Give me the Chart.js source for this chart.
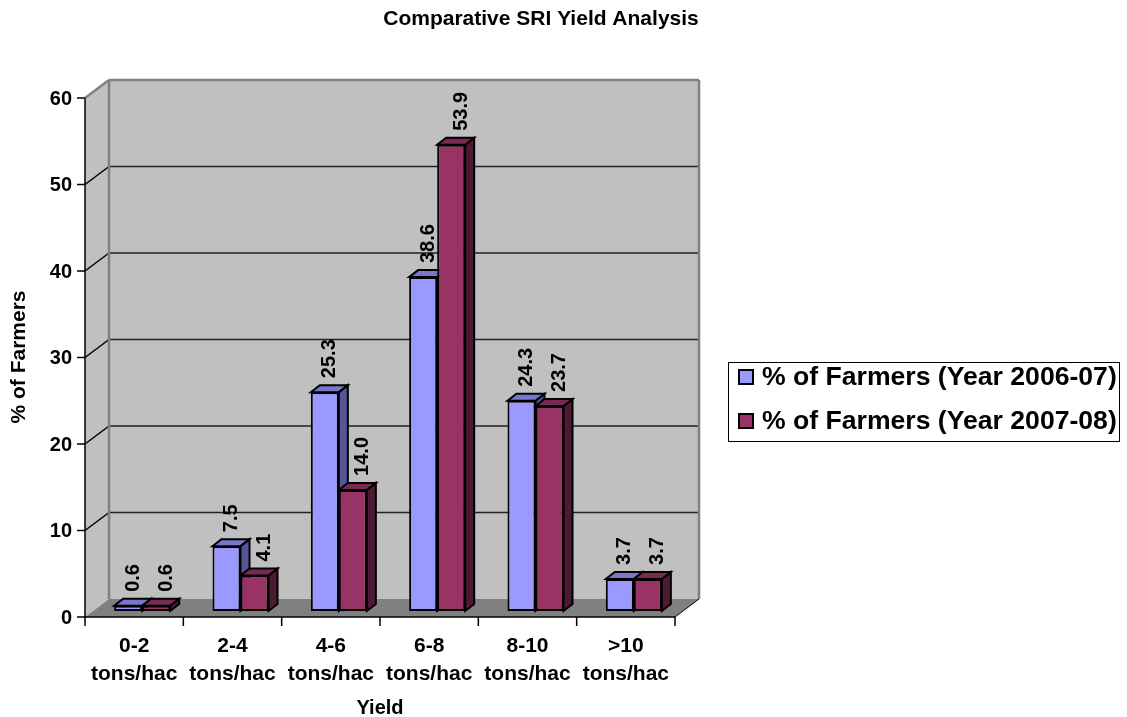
<!DOCTYPE html>
<html>
<head>
<meta charset="utf-8">
<script src="https://cdn.jsdelivr.net/npm/chart.js@4"></script>
<style>
  html, body { margin: 0; padding: 0; background: #ffffff; }
  #wrap { width: 1127px; height: 717px; }
</style>
</head>
<body>
<div id="wrap"><canvas id="chart" width="1127" height="717"></canvas></div>
<script>
// Yield bands (two-line tick labels)
const categories = [
  ['0-2', 'tons/hac'],
  ['2-4', 'tons/hac'],
  ['4-6', 'tons/hac'],
  ['6-8', 'tons/hac'],
  ['8-10', 'tons/hac'],
  ['>10', 'tons/hac']
];
const seriesNames = ['% of Farmers (Year 2006-07)', '% of Farmers (Year 2007-08)'];
const farmers2006 = [0.6, 7.5, 25.3, 38.6, 24.3, 3.7];
const farmers2007 = [0.6, 4.1, 14.0, 53.9, 23.7, 3.7];
const yTicks = [0, 10, 20, 30, 40, 50, 60];

const FONT = '"Liberation Sans", Arial, Helvetica, sans-serif';

// Colours: front, top and side faces of each series
const faceColors = [
  { front: '#9999FF', top: '#7777CC', side: '#555599' },
  { front: '#993366', top: '#7A2952', side: '#4D1A33' }
];

// Depth of the walls and of the bars
const WALL = { x: 24, y: -18 };
const BAR_SHIFT = { x: 8, y: -6 };
const BAR_DEPTH = { x: 9, y: -7 };

function poly(ctx, pts, fill, stroke, lw) {
  ctx.beginPath();
  ctx.moveTo(pts[0][0], pts[0][1]);
  for (let i = 1; i < pts.length; i++) ctx.lineTo(pts[i][0], pts[i][1]);
  ctx.closePath();
  if (fill) { ctx.fillStyle = fill; ctx.fill(); }
  if (stroke) { ctx.strokeStyle = stroke; ctx.lineWidth = lw || 1; ctx.stroke(); }
}
function line(ctx, x1, y1, x2, y2, color, lw) {
  ctx.beginPath();
  ctx.moveTo(x1, y1);
  ctx.lineTo(x2, y2);
  ctx.strokeStyle = color;
  ctx.lineWidth = lw;
  ctx.stroke();
}

const box3d = {
  id: 'box3d',
  beforeDatasetsDraw(chart) {
    const ctx = chart.ctx;
    const xs = chart.scales.x, ys = chart.scales.y;
    const L = chart.chartArea.left, R = chart.chartArea.right;
    const y0 = ys.getPixelForValue(yTicks[0]);
    const yT = ys.getPixelForValue(yTicks[yTicks.length - 1]);

    ctx.save();
    // side wall, back wall and floor
    poly(ctx, [[L, yT], [L + WALL.x, yT + WALL.y], [L + WALL.x, y0 + WALL.y], [L, y0]], '#C0C0C0');
    poly(ctx, [[L + WALL.x, yT + WALL.y], [R + WALL.x, yT + WALL.y], [R + WALL.x, y0 + WALL.y], [L + WALL.x, y0 + WALL.y]], '#C0C0C0');
    poly(ctx, [[L, y0], [R, y0], [R + WALL.x, y0 + WALL.y], [L + WALL.x, y0 + WALL.y]], '#808080');

    // gridlines on both walls
    yTicks.forEach(v => {
      if (v === yTicks[0] || v === yTicks[yTicks.length - 1]) return;
      const y = ys.getPixelForValue(v);
      line(ctx, L, y, L + WALL.x, y + WALL.y, '#000000', 1.5);
      line(ctx, L + WALL.x, y + WALL.y, R + WALL.x, y + WALL.y, '#222222', 1.5);
    });

    // wall edges
    line(ctx, L, yT, L + WALL.x, yT + WALL.y, '#808080', 2.5);
    line(ctx, L + WALL.x, yT + WALL.y, R + WALL.x, yT + WALL.y, '#808080', 2.5);
    line(ctx, R + WALL.x, yT + WALL.y, R + WALL.x, y0 + WALL.y, '#808080', 2.5);
    line(ctx, L + WALL.x, yT + WALL.y, L + WALL.x, y0 + WALL.y, '#808080', 2.5);
    line(ctx, R, y0, R + WALL.x, y0 + WALL.y, '#000000', 1);

    // value axis with ticks and labels
    line(ctx, L, yT, L, y0 + 1, '#000000', 1.5);
    ctx.fillStyle = '#000000';
    ctx.font = 'bold 20px ' + FONT;
    ctx.textAlign = 'right';
    ctx.textBaseline = 'middle';
    yTicks.forEach(v => {
      const y = ys.getPixelForValue(v);
      line(ctx, L - 8, y, L, y, '#000000', 1.5);
      ctx.fillText(String(v), L - 13, y + 1);
    });

    // category axis with ticks and two-line labels
    line(ctx, L, y0, R, y0, '#000000', 1.5);
    const n = categories.length;
    const bounds = [L];
    for (let i = 0; i < n - 1; i++) bounds.push((xs.getPixelForValue(i) + xs.getPixelForValue(i + 1)) / 2);
    bounds.push(R);
    bounds.forEach(bx => line(ctx, bx, y0, bx, y0 + 9, '#000000', 1.5));
    ctx.font = 'bold 21px ' + FONT;
    ctx.textAlign = 'center';
    categories.forEach((lab, i) => {
      const cx = xs.getPixelForValue(i);
      lab.forEach((t, k) => ctx.fillText(t, cx, y0 + 29 + k * 28));
    });
    ctx.restore();

    // bars sit a little behind the front plane
    ctx.save();
    ctx.translate(BAR_SHIFT.x, BAR_SHIFT.y);
    chart.data.datasets.forEach((ds, di) => {
      const meta = chart.getDatasetMeta(di);
      meta.data.forEach(bar => {
        const p = bar.getProps(['x', 'y', 'base', 'width'], true);
        const l = p.x - p.width / 2, r = p.x + p.width / 2;
        const top = Math.min(p.y, p.base), base = Math.max(p.y, p.base);
        poly(ctx, [[r, top], [r + BAR_DEPTH.x, top + BAR_DEPTH.y], [r + BAR_DEPTH.x, base + BAR_DEPTH.y], [r, base]],
          faceColors[di].side, '#000000', 2);
        poly(ctx, [[l, top], [r, top], [r + BAR_DEPTH.x, top + BAR_DEPTH.y], [l + BAR_DEPTH.x, top + BAR_DEPTH.y]],
          faceColors[di].top, '#000000', 2);
      });
    });
  },
  afterDatasetsDraw(chart) {
    const ctx = chart.ctx;
    // value labels, rotated, above each bar
    const labelShift = [5, 10];
    ctx.font = 'bold 20px ' + FONT;
    ctx.fillStyle = '#000000';
    ctx.textAlign = 'left';
    ctx.textBaseline = 'middle';
    chart.data.datasets.forEach((ds, di) => {
      const meta = chart.getDatasetMeta(di);
      meta.data.forEach((bar, i) => {
        const p = bar.getProps(['x', 'y'], true);
        ctx.save();
        ctx.translate(p.x + labelShift[di], p.y - 14);
        ctx.rotate(-Math.PI / 2);
        ctx.fillText(ds.data[i].toFixed(1), 0, 0);
        ctx.restore();
      });
    });
    ctx.restore();
  },
  afterDraw(chart) {
    const ctx = chart.ctx;
    ctx.save();
    ctx.fillStyle = '#000000';
    ctx.textAlign = 'center';
    ctx.textBaseline = 'middle';

    // chart title
    ctx.font = 'bold 21px ' + FONT;
    ctx.fillText('Comparative SRI Yield Analysis', 541, 19);

    // axis titles
    ctx.font = 'bold 20px ' + FONT;
    ctx.fillText('Yield', (chart.chartArea.left + chart.chartArea.right) / 2, 708);
    ctx.save();
    ctx.translate(19, 357);
    ctx.rotate(-Math.PI / 2);
    ctx.font = 'bold 21px ' + FONT;
    ctx.fillText('% of Farmers', 0, 0);
    ctx.restore();

    // legend
    ctx.fillStyle = '#ffffff';
    ctx.fillRect(728, 362, 392, 80);
    ctx.strokeStyle = '#000000';
    ctx.lineWidth = 1;
    ctx.strokeRect(728.5, 362.5, 391, 79);
    ctx.font = 'bold 26.6px ' + FONT;
    ctx.textAlign = 'left';
    chart.data.datasets.forEach((ds, di) => {
      const cy = 377 + di * 44;
      ctx.fillStyle = ds.backgroundColor;
      ctx.fillRect(739, cy - 7, 14, 14);
      ctx.lineWidth = 2;
      ctx.strokeRect(739, cy - 7, 14, 14);
      ctx.fillStyle = '#000000';
      ctx.fillText(ds.label, 762, cy + 1);
    });
    ctx.restore();
  }
};

new Chart(document.getElementById('chart'), {
  type: 'bar',
  data: {
    labels: categories,
    datasets: [
      { label: seriesNames[0], data: farmers2006, backgroundColor: faceColors[0].front,
        borderColor: '#000000', borderWidth: 2, borderSkipped: false },
      { label: seriesNames[1], data: farmers2007, backgroundColor: faceColors[1].front,
        borderColor: '#000000', borderWidth: 2, borderSkipped: false }
    ]
  },
  options: {
    responsive: false,
    animation: false,
    events: [],
    layout: { padding: { left: 85, right: 452, top: 98, bottom: 100 } },
    datasets: { bar: { categoryPercentage: 0.57, barPercentage: 1.0 } },
    scales: {
      x: { display: false, offset: true },
      y: { display: false, min: 0, max: 60, ticks: { stepSize: 10 } }
    },
    plugins: {
      legend: { display: false },
      title: { display: false },
      tooltip: { enabled: false }
    }
  },
  plugins: [box3d]
});
</script>
</body>
</html>
